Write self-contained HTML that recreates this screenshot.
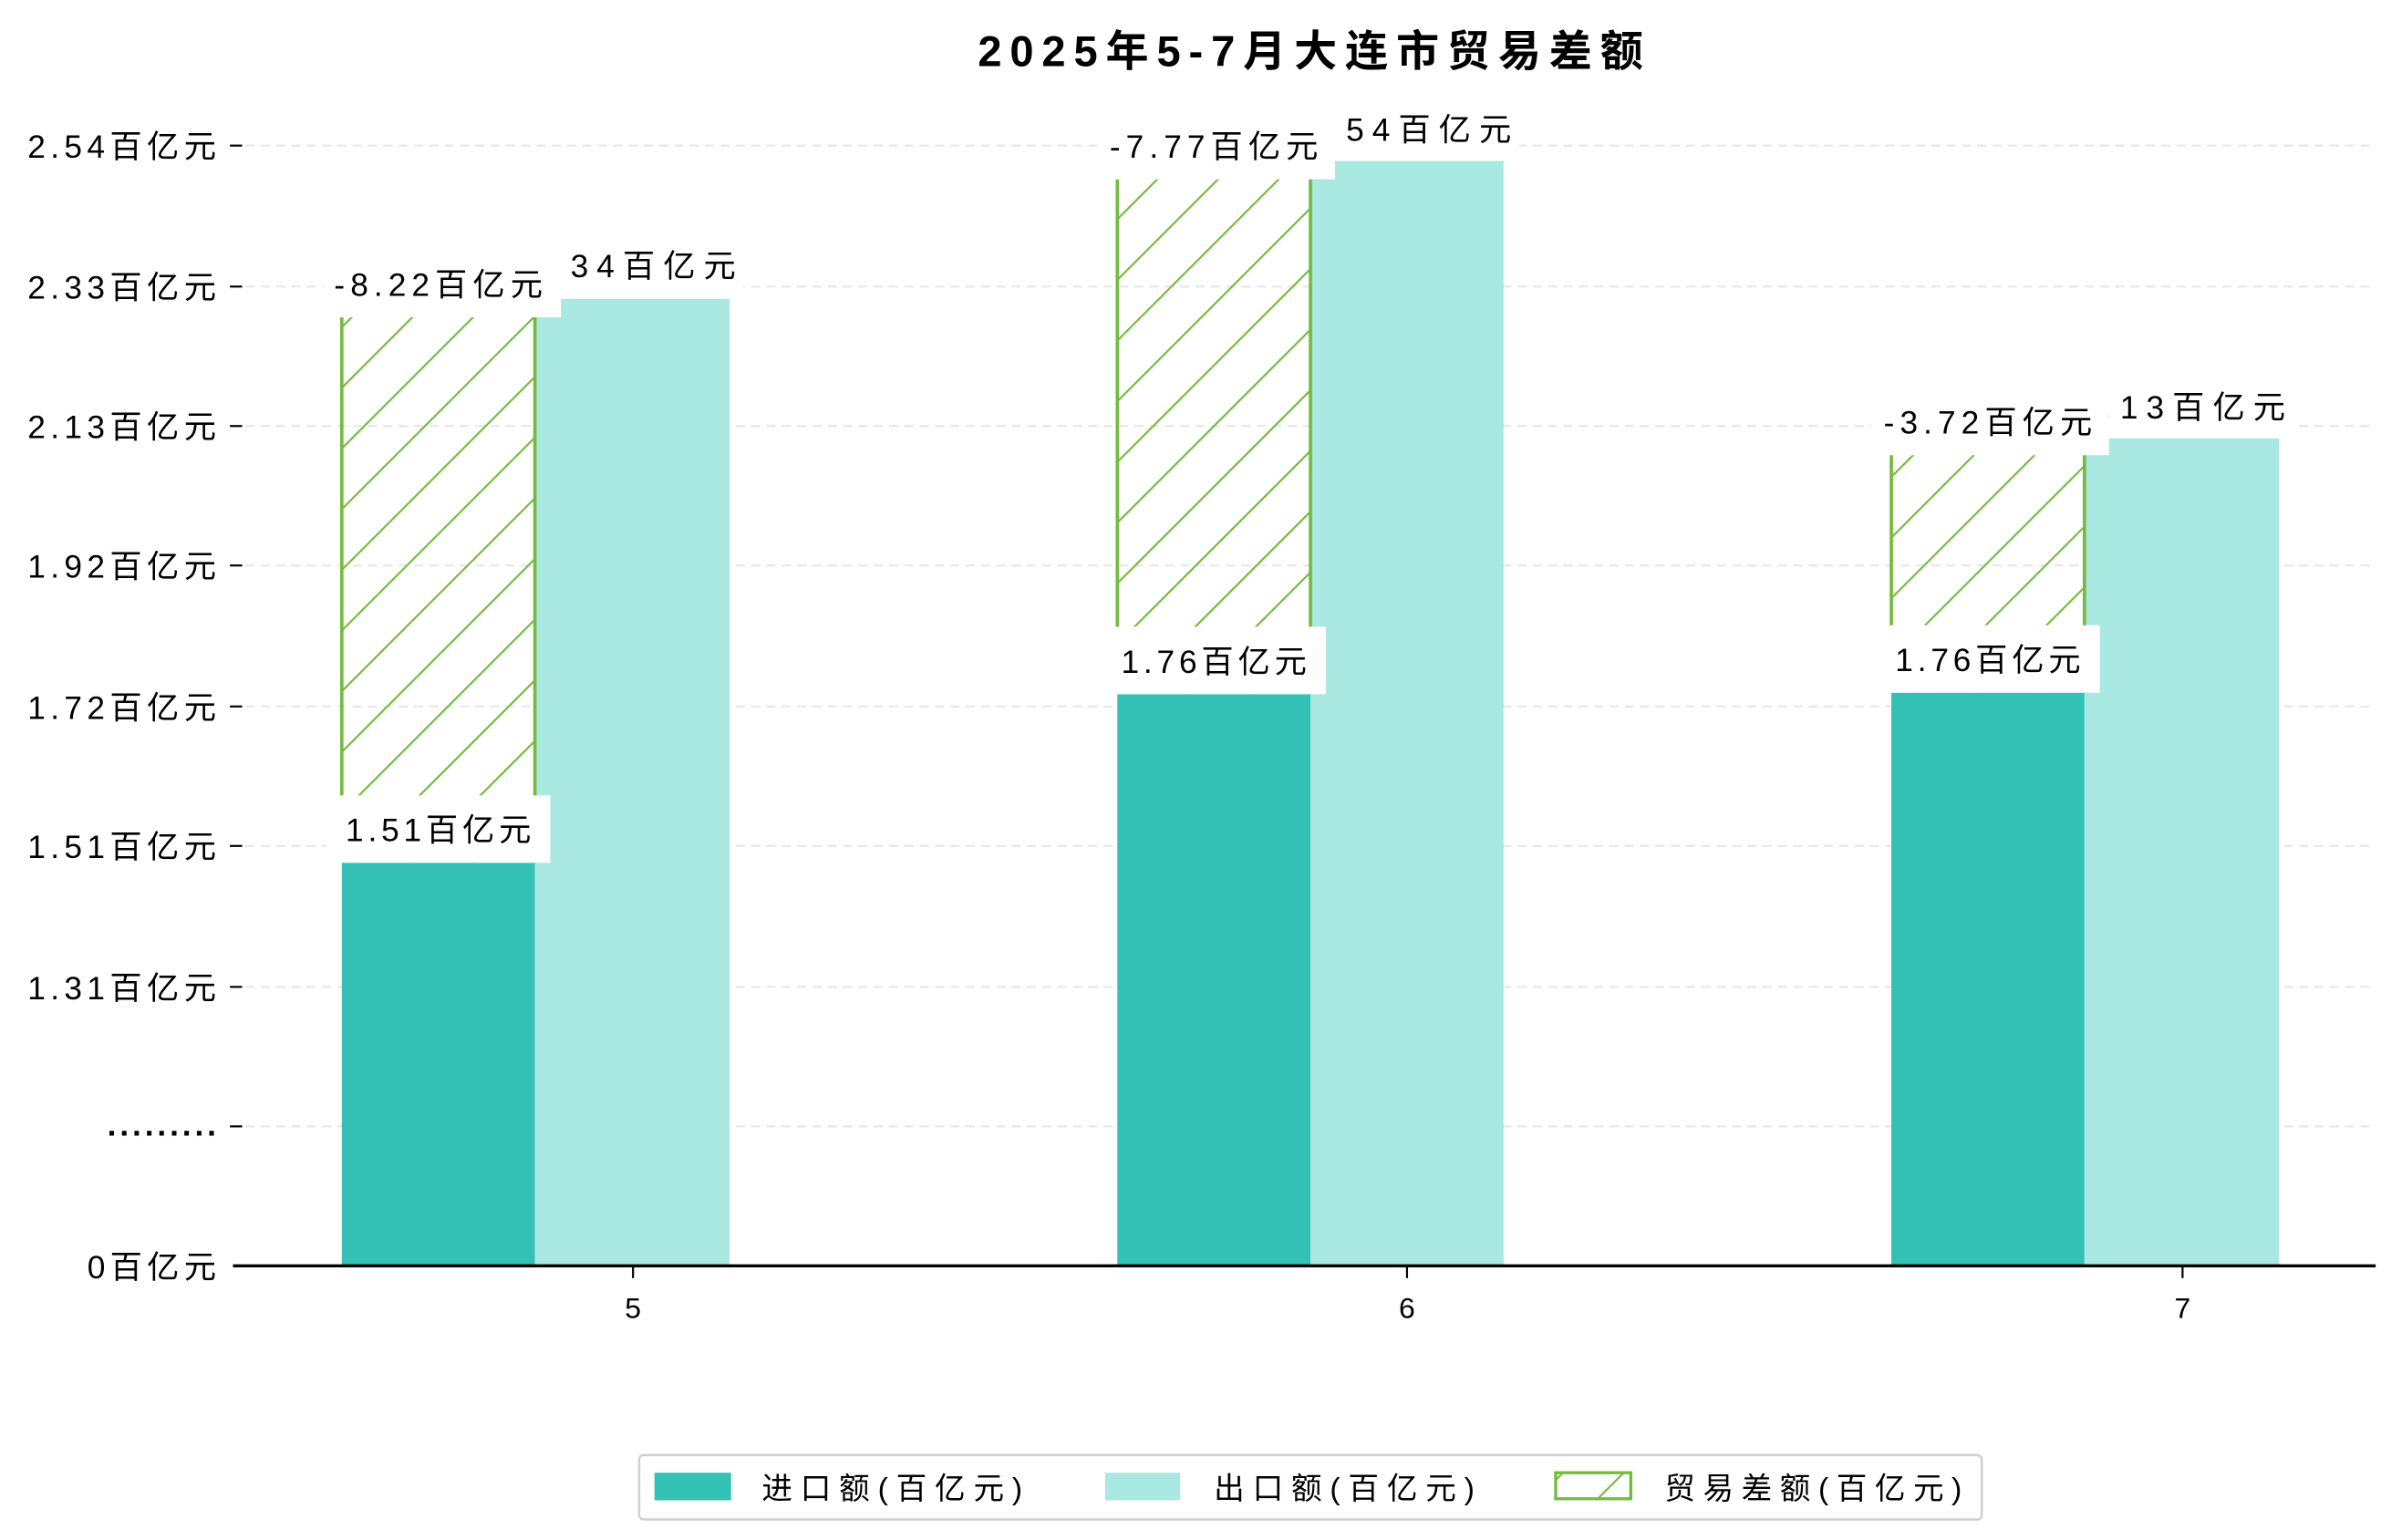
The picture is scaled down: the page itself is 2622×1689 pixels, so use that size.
<!DOCTYPE html>
<html><head><meta charset="utf-8"><style>html,body{margin:0;padding:0;background:#fff}svg{display:block}text{font-family:"Liberation Sans","Noto Sans CJK SC",sans-serif;fill:#000}</style></head>
<body>
<svg width="2622" height="1689" viewBox="0 0 1560 1004.9" xmlns="http://www.w3.org/2000/svg">
<defs>
<pattern id="h" patternUnits="userSpaceOnUse" width="28" height="28" patternTransform="rotate(45)">
<line x1="0" y1="0" x2="0" y2="28" stroke="#76bb40" stroke-width="2.6"/>
</pattern>
</defs>
<rect width="1560" height="1005" fill="#fff"/>
<text x="855" y="43" font-size="28" font-weight="bold" text-anchor="middle" textLength="434">2025年5-7月大连市贸易差额</text>
<g stroke="#e8e8e8" stroke-width="1.3" stroke-dasharray="6,4">
<line x1="160" x2="1550" y1="95" y2="95"/><line x1="160" x2="1550" y1="187" y2="187"/><line x1="160" x2="1550" y1="278" y2="278"/><line x1="160" x2="1550" y1="369" y2="369"/><line x1="160" x2="1550" y1="461" y2="461"/><line x1="160" x2="1550" y1="552" y2="552"/><line x1="160" x2="1550" y1="644" y2="644"/><line x1="160" x2="1550" y1="735" y2="735"/>
</g>
<g stroke="#000" stroke-width="1.3">
<line x1="150" x2="158" y1="95" y2="95"/><line x1="150" x2="158" y1="187" y2="187"/><line x1="150" x2="158" y1="278" y2="278"/><line x1="150" x2="158" y1="369" y2="369"/><line x1="150" x2="158" y1="461" y2="461"/><line x1="150" x2="158" y1="552" y2="552"/><line x1="150" x2="158" y1="644" y2="644"/><line x1="150" x2="158" y1="735" y2="735"/>
<line x1="413" x2="413" y1="826" y2="834"/><line x1="918" x2="918" y1="826" y2="834"/><line x1="1424" x2="1424" y1="826" y2="834"/>
</g>
<g font-size="21" text-anchor="end">
<text x="141" y="103" textLength="123">2.54百亿元</text>
<text x="141" y="195" textLength="123">2.33百亿元</text>
<text x="141" y="286" textLength="123">2.13百亿元</text>
<text x="141" y="377" textLength="123">1.92百亿元</text>
<text x="141" y="469" textLength="123">1.72百亿元</text>
<text x="141" y="560" textLength="123">1.51百亿元</text>
<text x="141" y="652" textLength="123">1.31百亿元</text>
<text x="141" y="741" textLength="71" font-weight="bold">.........</text>
<text x="141" y="834" textLength="84">0百亿元</text>
</g>
<g font-size="19" text-anchor="middle">
<text x="413" y="860">5</text><text x="918" y="860">6</text><text x="1424" y="860">7</text>
</g>
<g>
<rect x="223" y="563" width="126" height="263" fill="#32c1b4"/>
<rect x="349" y="195" width="127" height="631" fill="#aae8e2"/>
<rect x="223" y="207" width="126" height="356" fill="url(#h)"/>
<line x1="223" x2="223" y1="207" y2="563" stroke="#76bb40" stroke-width="2.2"/><line x1="349" x2="349" y1="207" y2="563" stroke="#76bb40" stroke-width="2.2"/>
<rect x="729" y="453" width="126" height="373" fill="#32c1b4"/>
<rect x="855" y="105" width="126" height="721" fill="#aae8e2"/>
<rect x="729" y="117" width="126" height="336" fill="url(#h)"/>
<line x1="729" x2="729" y1="117" y2="453" stroke="#76bb40" stroke-width="2.2"/><line x1="855" x2="855" y1="117" y2="453" stroke="#76bb40" stroke-width="2.2"/>
<rect x="1234" y="452" width="126" height="374" fill="#32c1b4"/>
<rect x="1360" y="286" width="127" height="540" fill="#aae8e2"/>
<rect x="1234" y="297" width="126" height="155" fill="url(#h)"/>
<line x1="1234" x2="1234" y1="297" y2="452" stroke="#76bb40" stroke-width="2.2"/><line x1="1360" x2="1360" y1="297" y2="452" stroke="#76bb40" stroke-width="2.2"/>
</g>
<line x1="152" x2="1550" y1="826" y2="826" stroke="#000" stroke-width="2"/>
<g font-size="21" text-anchor="middle">
<rect x="339" y="150" width="146" height="45" fill="#fff"/><text x="412" y="181" textLength="136">2.34百亿元</text>
<rect x="211" y="163" width="155" height="44" fill="#fff"/><text x="286" y="193" textLength="136">-8.22百亿元</text>
<rect x="213" y="519" width="146" height="44" fill="#fff"/><text x="286" y="549" textLength="121">1.51百亿元</text>
<rect x="845" y="61" width="146" height="44" fill="#fff"/><text x="918" y="92" textLength="136">2.54百亿元</text>
<rect x="716" y="73" width="155" height="44" fill="#fff"/><text x="792" y="103" textLength="136">-7.77百亿元</text>
<rect x="719" y="409" width="146" height="44" fill="#fff"/><text x="792" y="439" textLength="121">1.76百亿元</text>
<rect x="1350" y="242" width="146" height="44" fill="#fff"/><text x="1423" y="273" textLength="136">2.13百亿元</text>
<rect x="1221" y="253" width="155" height="44" fill="#fff"/><text x="1297" y="283" textLength="136">-3.72百亿元</text>
<rect x="1224" y="408" width="146" height="44" fill="#fff"/><text x="1297" y="438" textLength="121">1.76百亿元</text>
</g>
<rect x="417" y="949.5" width="876" height="42" rx="3" fill="#fff" stroke="#d0d0d0" stroke-width="1.5"/>
<rect x="427" y="961" width="50" height="18" fill="#32c1b4"/>
<rect x="721" y="961" width="49" height="18" fill="#aae8e2"/>
<rect x="1015" y="961" width="49" height="17" fill="url(#h)" stroke="#76bb40" stroke-width="2"/>
<g font-size="20">
<text x="497" y="978" textLength="170">进口额(百亿元)</text>
<text x="792" y="978" textLength="170">出口额(百亿元)</text>
<text x="1086" y="978" textLength="194">贸易差额(百亿元)</text>
</g>
</svg>
</body></html>
